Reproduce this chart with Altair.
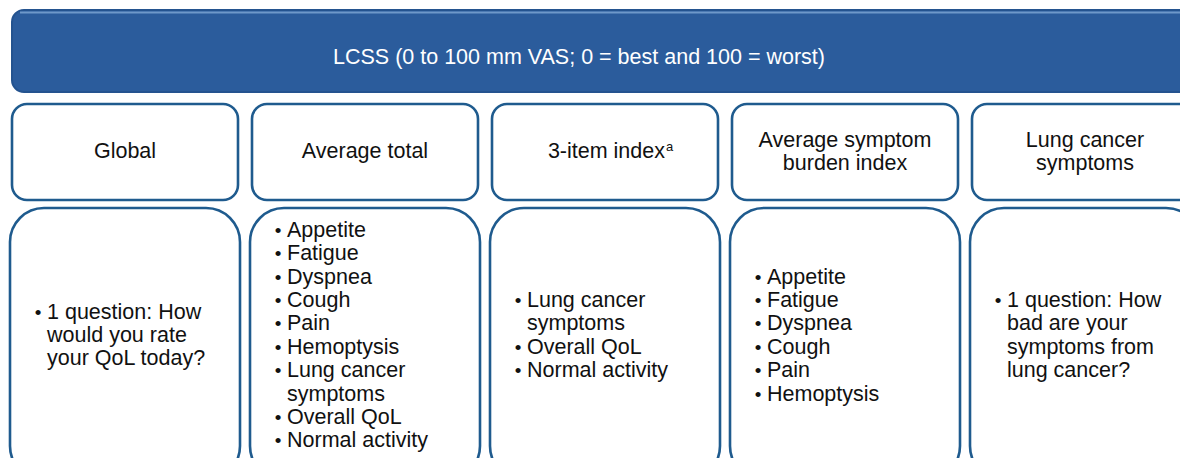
import altair as alt
import pandas as pd

# ---- content ----
banner_text = ["LCSS (0 to 100 mm VAS; 0 = best and 100 = worst)"]
headers = [["Global"], ["Average total"], ["3-item index"],
           ["Average symptom", "burden index"], ["Lung cancer", "symptoms"]]
header_sup = ["", "", "a", "", ""]
bodies = [
    [["1 question: How", "would you rate", "your QoL today?"]],
    [["Appetite"], ["Fatigue"], ["Dyspnea"], ["Cough"], ["Pain"], ["Hemoptysis"],
     ["Lung cancer", "symptoms"], ["Overall QoL"], ["Normal activity"]],
    [["Lung cancer", "symptoms"], ["Overall QoL"], ["Normal activity"]],
    [["Appetite"], ["Fatigue"], ["Dyspnea"], ["Cough"], ["Pain"], ["Hemoptysis"]],
    [["1 question: How", "bad are your", "symptoms from", "lung cancer?"]],
]

# ---- layout (pixel frame of the 1188x458 page; the svg can use x 8..1180) ----
W, H = 1180, 458
COL_STEP = 240
FONT = "Liberation Sans"
FS = 21.5
LH = 23.4
STROKE = "#1f5b8e"
BLUE = "#2b5c9c"

banner = pd.DataFrame({"x": [12], "x2": [1230], "y": [10], "y2": [92]})
banner_hl = pd.DataFrame({"x": [20], "x2": [1230], "y": [12.5]})
banner_lbl = pd.DataFrame({"x": [579], "y": [58], "t": banner_text})

hdr_rows, hdr_txt, sup_txt, low_rows, bullets, lines = [], [], [], [], [], []
for i, (h, s, body) in enumerate(zip(headers, header_sup, bodies)):
    hx0 = 12 + COL_STEP * i
    hdr_rows.append({"x": hx0, "x2": hx0 + 226, "y": 104, "y2": 200})
    cx = hx0 + 113
    nh = len(h)
    for k, ln in enumerate(h):
        yy = 152 + (k - (nh - 1) / 2) * 23
        if s:
            hdr_txt.append({"x": cx + 60, "y": yy, "t": ln, "align": "right"})
            sup_txt.append({"x": cx + 61, "y": yy - 5, "t": s})
        else:
            hdr_txt.append({"x": cx, "y": yy, "t": ln, "align": "center"})
    lx0 = 10 + COL_STEP * i
    low_rows.append({"x": lx0, "x2": lx0 + 230, "y": 208, "y2": 480})
    flat = []
    for item in body:
        for k, ln in enumerate(item):
            flat.append((k == 0, ln))
    n = len(flat)
    for j, (is_first, ln) in enumerate(flat):
        yy = 336 + (j - (n - 1) / 2) * LH
        if is_first:
            bullets.append({"x": lx0 + 28, "y": yy, "t": "•"})
        lines.append({"x": lx0 + 37, "y": yy, "t": ln})

hdr_df = pd.DataFrame(hdr_rows)
low_df = pd.DataFrame(low_rows)
hdr_txt_df = pd.DataFrame(hdr_txt)
sup_df = pd.DataFrame(sup_txt)
bul_df = pd.DataFrame(bullets)
lines_df = pd.DataFrame(lines)

xs = alt.Scale(domain=[8, W], nice=False, zero=False)
ys = alt.Scale(domain=[8, H], nice=False, zero=False, reverse=True)


def X(f="x"):
    return alt.X(f"{f}:Q", scale=xs, axis=None)


def Y(f="y"):
    return alt.Y(f"{f}:Q", scale=ys, axis=None)


banner_shadow = alt.Chart(banner).mark_rect(
    cornerRadius=13, fill="#1b4579", clip=True
).encode(x=X(), x2="x2:Q", y=Y(), y2="y2:Q")
banner_rect = alt.Chart(banner).mark_rect(
    cornerRadius=12, fill=BLUE, stroke="#24538f", strokeWidth=2, clip=True
).encode(x=X(), x2="x2:Q", y=Y(), y2="y2:Q")
banner_line = alt.Chart(banner_hl).mark_rule(
    color="#6e98c9", strokeWidth=2, clip=True
).encode(x=X(), x2="x2:Q", y=Y())
banner_t = alt.Chart(banner_lbl).mark_text(
    font=FONT, fontSize=FS, color="white", baseline="middle", align="center"
).encode(x=X(), y=Y(), text="t:N")

hdr_boxes = alt.Chart(hdr_df).mark_rect(
    cornerRadius=15, fill="white", stroke=STROKE, strokeWidth=2.6, clip=True
).encode(x=X(), x2="x2:Q", y=Y(), y2="y2:Q")
low_boxes = alt.Chart(low_df).mark_rect(
    cornerRadius=34, fill="white", stroke=STROKE, strokeWidth=2.6, clip=True
).encode(x=X(), x2="x2:Q", y=Y(), y2="y2:Q")

hdr_c = alt.Chart(hdr_txt_df).transform_filter("datum.align == 'center'").mark_text(
    font=FONT, fontSize=FS, color="#111111", baseline="middle", align="center"
).encode(x=X(), y=Y(), text="t:N")
hdr_r = alt.Chart(hdr_txt_df).transform_filter("datum.align == 'right'").mark_text(
    font=FONT, fontSize=FS, color="#111111", baseline="middle", align="right"
).encode(x=X(), y=Y(), text="t:N")
sup = alt.Chart(sup_df).mark_text(
    font=FONT, fontSize=13, color="#111111", baseline="middle", align="left"
).encode(x=X(), y=Y(), text="t:N")

bul = alt.Chart(bul_df).mark_text(
    font=FONT, fontSize=19, color="#111111", baseline="middle", align="center"
).encode(x=X(), y=Y(), text="t:N")
txt = alt.Chart(lines_df).mark_text(
    font=FONT, fontSize=FS, color="#111111", baseline="middle", align="left"
).encode(x=X(), y=Y(), text="t:N")

chart = alt.layer(
    banner_shadow, banner_rect, banner_line, banner_t, hdr_boxes, low_boxes,
    hdr_c, hdr_r, sup, bul, txt
).properties(
    width=W - 8, height=H - 8,
    autosize=alt.AutoSizeParams(type="none"), padding=0
).configure_view(stroke=None)

chart.save("out.html", embed_options={"renderer": "svg", "actions": False})
